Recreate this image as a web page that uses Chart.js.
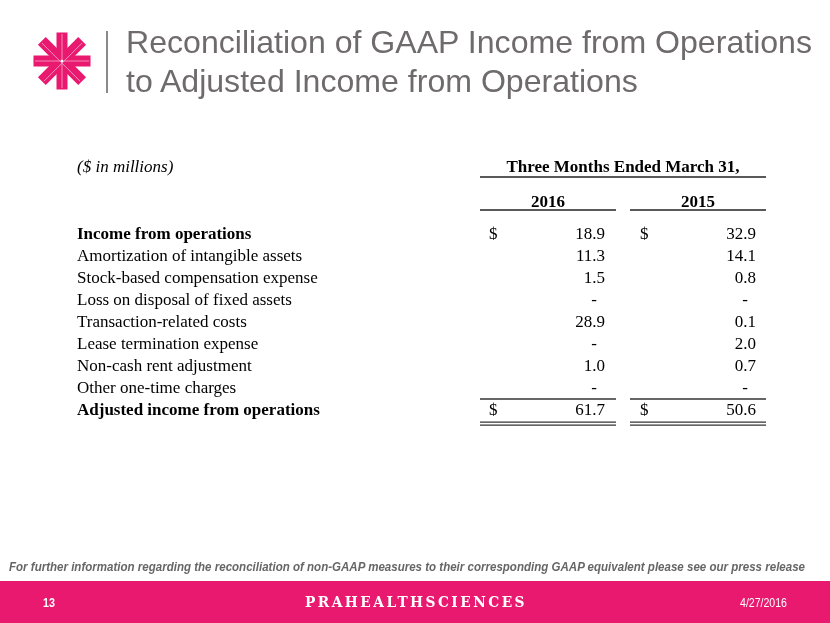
<!DOCTYPE html>
<html>
<head>
<meta charset="utf-8">
<script src="https://cdn.jsdelivr.net/npm/chart.js@4.4.1/dist/chart.umd.min.js"></script>
<style>
html,body{margin:0;padding:0;background:#fff;}
#slide{position:relative;width:830px;height:623px;overflow:hidden;background:#fff;font-family:"Liberation Sans",Arial,sans-serif;}
#c{position:absolute;left:0;top:0;}
.fit{position:absolute;white-space:nowrap;transform-origin:0 0;display:inline-block;}
#t1,#t2{left:126px;font-size:32px;color:#6f6b6c;line-height:32px;}
#t1{top:26px}
#t2{top:65px}
#vline{position:absolute;left:106px;top:31px;width:2px;height:62px;background:#8a8a8a;}
#logo{position:absolute;left:30px;top:29px;}
#note{left:9px;top:560px;font-size:12.5px;line-height:14px;font-weight:bold;font-style:italic;color:#666;}
#band{position:absolute;left:0;top:581px;width:830px;height:42px;background:#e8196f;}
#pg{left:43px;top:596px;font-size:13px;line-height:14px;color:#fff;font-weight:bold;}
#brand{left:305px;top:594px;font-family:"DejaVu Serif",serif;font-weight:bold;font-size:14px;line-height:16px;color:#fff;letter-spacing:2.5px;}
#date{left:740px;top:596px;font-size:13.5px;line-height:14px;color:#fff;}
</style>
</head>
<body>
<div id="slide">
  <canvas id="c" width="830" height="623"></canvas>
  <svg id="logo" width="64" height="64" viewBox="-32 -32 64 64">
    <g fill="#e8196f">
      <rect x="-28.5" y="-5.5" width="57" height="11" transform="rotate(0)"/>
      <rect x="-28.5" y="-5.5" width="57" height="11" transform="rotate(45)"/>
      <rect x="-28.5" y="-5.5" width="57" height="11" transform="rotate(90)"/>
      <rect x="-28.5" y="-5.5" width="57" height="11" transform="rotate(135)"/>
    </g>
    <g stroke="#f7a8c8" stroke-width="0.8">
      <line x1="-27" y1="0" x2="27" y2="0" transform="rotate(0)"/>
      <line x1="-27" y1="1.5" x2="27" y2="1.5" transform="rotate(45)"/>
      <line x1="-27" y1="0" x2="27" y2="0" transform="rotate(90)"/>
      <line x1="-27" y1="-1.5" x2="27" y2="-1.5" transform="rotate(135)"/>
    </g>
    <circle cx="0" cy="0" r="1.3" fill="#fff"/>
  </svg>
  <div id="vline"></div>
  <div id="t1" class="fit" data-w="686">Reconciliation of GAAP Income from Operations</div>
  <div id="t2" class="fit">to Adjusted Income from Operations</div>
  <div id="note" class="fit" data-w="796">For further information regarding the reconciliation of non-GAAP measures to their corresponding GAAP equivalent please see our press release</div>
  <div id="band"></div>
  <div id="pg" class="fit" data-w="12">13</div>
  <div id="brand" class="fit" data-w="222">PRAHEALTHSCIENCES</div>
  <div id="date" class="fit" data-w="47">4/27/2016</div>
</div>
<script>
// ---- Data ----
const unitNote = '($ in millions)';
const periodHeader = 'Three Months Ended March 31,';
const columnYears = ['2016', '2015'];
const rowLabels = [
  'Income from operations',
  'Amortization of intangible assets',
  'Stock-based compensation expense',
  'Loss on disposal of fixed assets',
  'Transaction-related costs',
  'Lease termination expense',
  'Non-cash rent adjustment',
  'Other one-time charges',
  'Adjusted income from operations'
];
const values2016 = [18.9, 11.3, 1.5, null, 28.9, null, 1.0, null, 61.7];
const values2015 = [32.9, 14.1, 0.8, null, 0.1, 2.0, 0.7, null, 50.6];
const seriesValues = [values2016, values2015];

// ---- fit slide texts horizontally ----
let t1scale = 1;
document.querySelectorAll('.fit').forEach(el => {
  const target = parseFloat(el.dataset.w || 0);
  if (target) {
    const w = el.getBoundingClientRect().width;
    const s = target / w;
    el.style.transform = 'scaleX(' + s + ')';
    if (el.id === 't1') t1scale = s;
  }
});
document.getElementById('t2').style.transform = 'scaleX(' + t1scale + ')';

// ---- table drawn via Chart.js scales ----
const layoutCfg = {
  labelX: 77,
  colLeft: [480, 630],
  colRight: [616, 766],
  valueRight: [605, 756],
  dollarX: [489, 640],
  unitBase: 172,
  headerBase: 172,
  headerLineY: 177,
  yearBase: 207,
  yearLineY: 210,
  rowBaseOffset: 5,
  font: '"Liberation Serif","Times New Roman",serif',
  size: 17
};

const tablePlugin = {
  id: 'tablePlugin',
  afterDraw(chart) {
    const ctx = chart.ctx;
    const xs = chart.scales.x;
    const ys = chart.scales.y;
    const L = layoutCfg;
    const X = v => xs.getPixelForValue(v);
    ctx.save();
    ctx.fillStyle = '#000';
    ctx.textBaseline = 'alphabetic';
    // unit note
    ctx.font = 'italic ' + L.size + 'px ' + L.font;
    ctx.textAlign = 'left';
    ctx.fillText(unitNote, X(L.labelX), L.unitBase);
    // header
    ctx.font = 'bold ' + L.size + 'px ' + L.font;
    ctx.textAlign = 'center';
    ctx.fillText(periodHeader, (X(L.colLeft[0]) + X(L.colRight[1])) / 2, L.headerBase);
    ctx.strokeStyle = '#222';
    ctx.lineWidth = 1.5;
    ctx.beginPath();
    ctx.moveTo(X(L.colLeft[0]), L.headerLineY);
    ctx.lineTo(X(L.colRight[1]), L.headerLineY);
    ctx.stroke();
    columnYears.forEach((yr, ci) => {
      const cx = (X(L.colLeft[ci]) + X(L.colRight[ci])) / 2;
      ctx.fillText(yr, cx, L.yearBase);
      ctx.beginPath();
      ctx.moveTo(X(L.colLeft[ci]), L.yearLineY);
      ctx.lineTo(X(L.colRight[ci]), L.yearLineY);
      ctx.stroke();
    });
    // rows
    const last = rowLabels.length - 1;
    rowLabels.forEach((lab, ri) => {
      const y = ys.getPixelForValue(ri) + L.rowBaseOffset;
      const bold = (ri === 0 || ri === last);
      ctx.font = (bold ? 'bold ' : '') + L.size + 'px ' + L.font;
      ctx.textAlign = 'left';
      ctx.fillText(lab, X(L.labelX), y);
      ctx.font = L.size + 'px ' + L.font;
      seriesValues.forEach((vals, ci) => {
        const v = vals[ri];
        if (bold) {
          ctx.textAlign = 'left';
          ctx.fillText('$', X(L.dollarX[ci]), y);
        }
        if (v === null) {
          ctx.textAlign = 'center';
          ctx.fillText('-', X(L.valueRight[ci]) - 11, y);
        } else {
          ctx.textAlign = 'right';
          ctx.fillText(v.toFixed(1), X(L.valueRight[ci]), y);
        }
      });
    });
    // total rules
    const yPrev = ys.getPixelForValue(last - 1);
    const yLast = ys.getPixelForValue(last);
    const gap = yLast - yPrev;
    ctx.strokeStyle = '#333';
    ctx.lineWidth = 1.3;
    [0, 1].forEach(ci => {
      const a = X(L.colLeft[ci]), b = X(L.colRight[ci]);
      const ySingle = yLast - gap * 0.5;
      ctx.beginPath(); ctx.moveTo(a, ySingle); ctx.lineTo(b, ySingle); ctx.stroke();
      const yD1 = yLast + gap * 0.55, yD2 = yD1 + 3;
      ctx.beginPath(); ctx.moveTo(a, yD1); ctx.lineTo(b, yD1); ctx.stroke();
      ctx.beginPath(); ctx.moveTo(a, yD2); ctx.lineTo(b, yD2); ctx.stroke();
    });
    ctx.restore();
  }
};

new Chart(document.getElementById('c'), {
  type: 'scatter',
  data: {
    labels: rowLabels,
    datasets: seriesValues.map((vals, ci) => ({
      label: columnYears[ci],
      data: vals.map((v, ri) => ({ x: layoutCfg.valueRight[ci], y: ri })),
      pointRadius: 0,
      showLine: false
    }))
  },
  options: {
    responsive: false,
    animation: false,
    events: [],
    layout: { padding: { left: 0, right: 0, top: 234, bottom: 213 } },
    plugins: { legend: { display: false }, tooltip: { enabled: false }, title: { display: false } },
    scales: {
      x: { type: 'linear', min: 0, max: 830, display: false },
      y: { type: 'linear', min: 0, max: rowLabels.length - 1, reverse: true, display: false }
    }
  },
  plugins: [tablePlugin]
});
</script>
</body>
</html>
